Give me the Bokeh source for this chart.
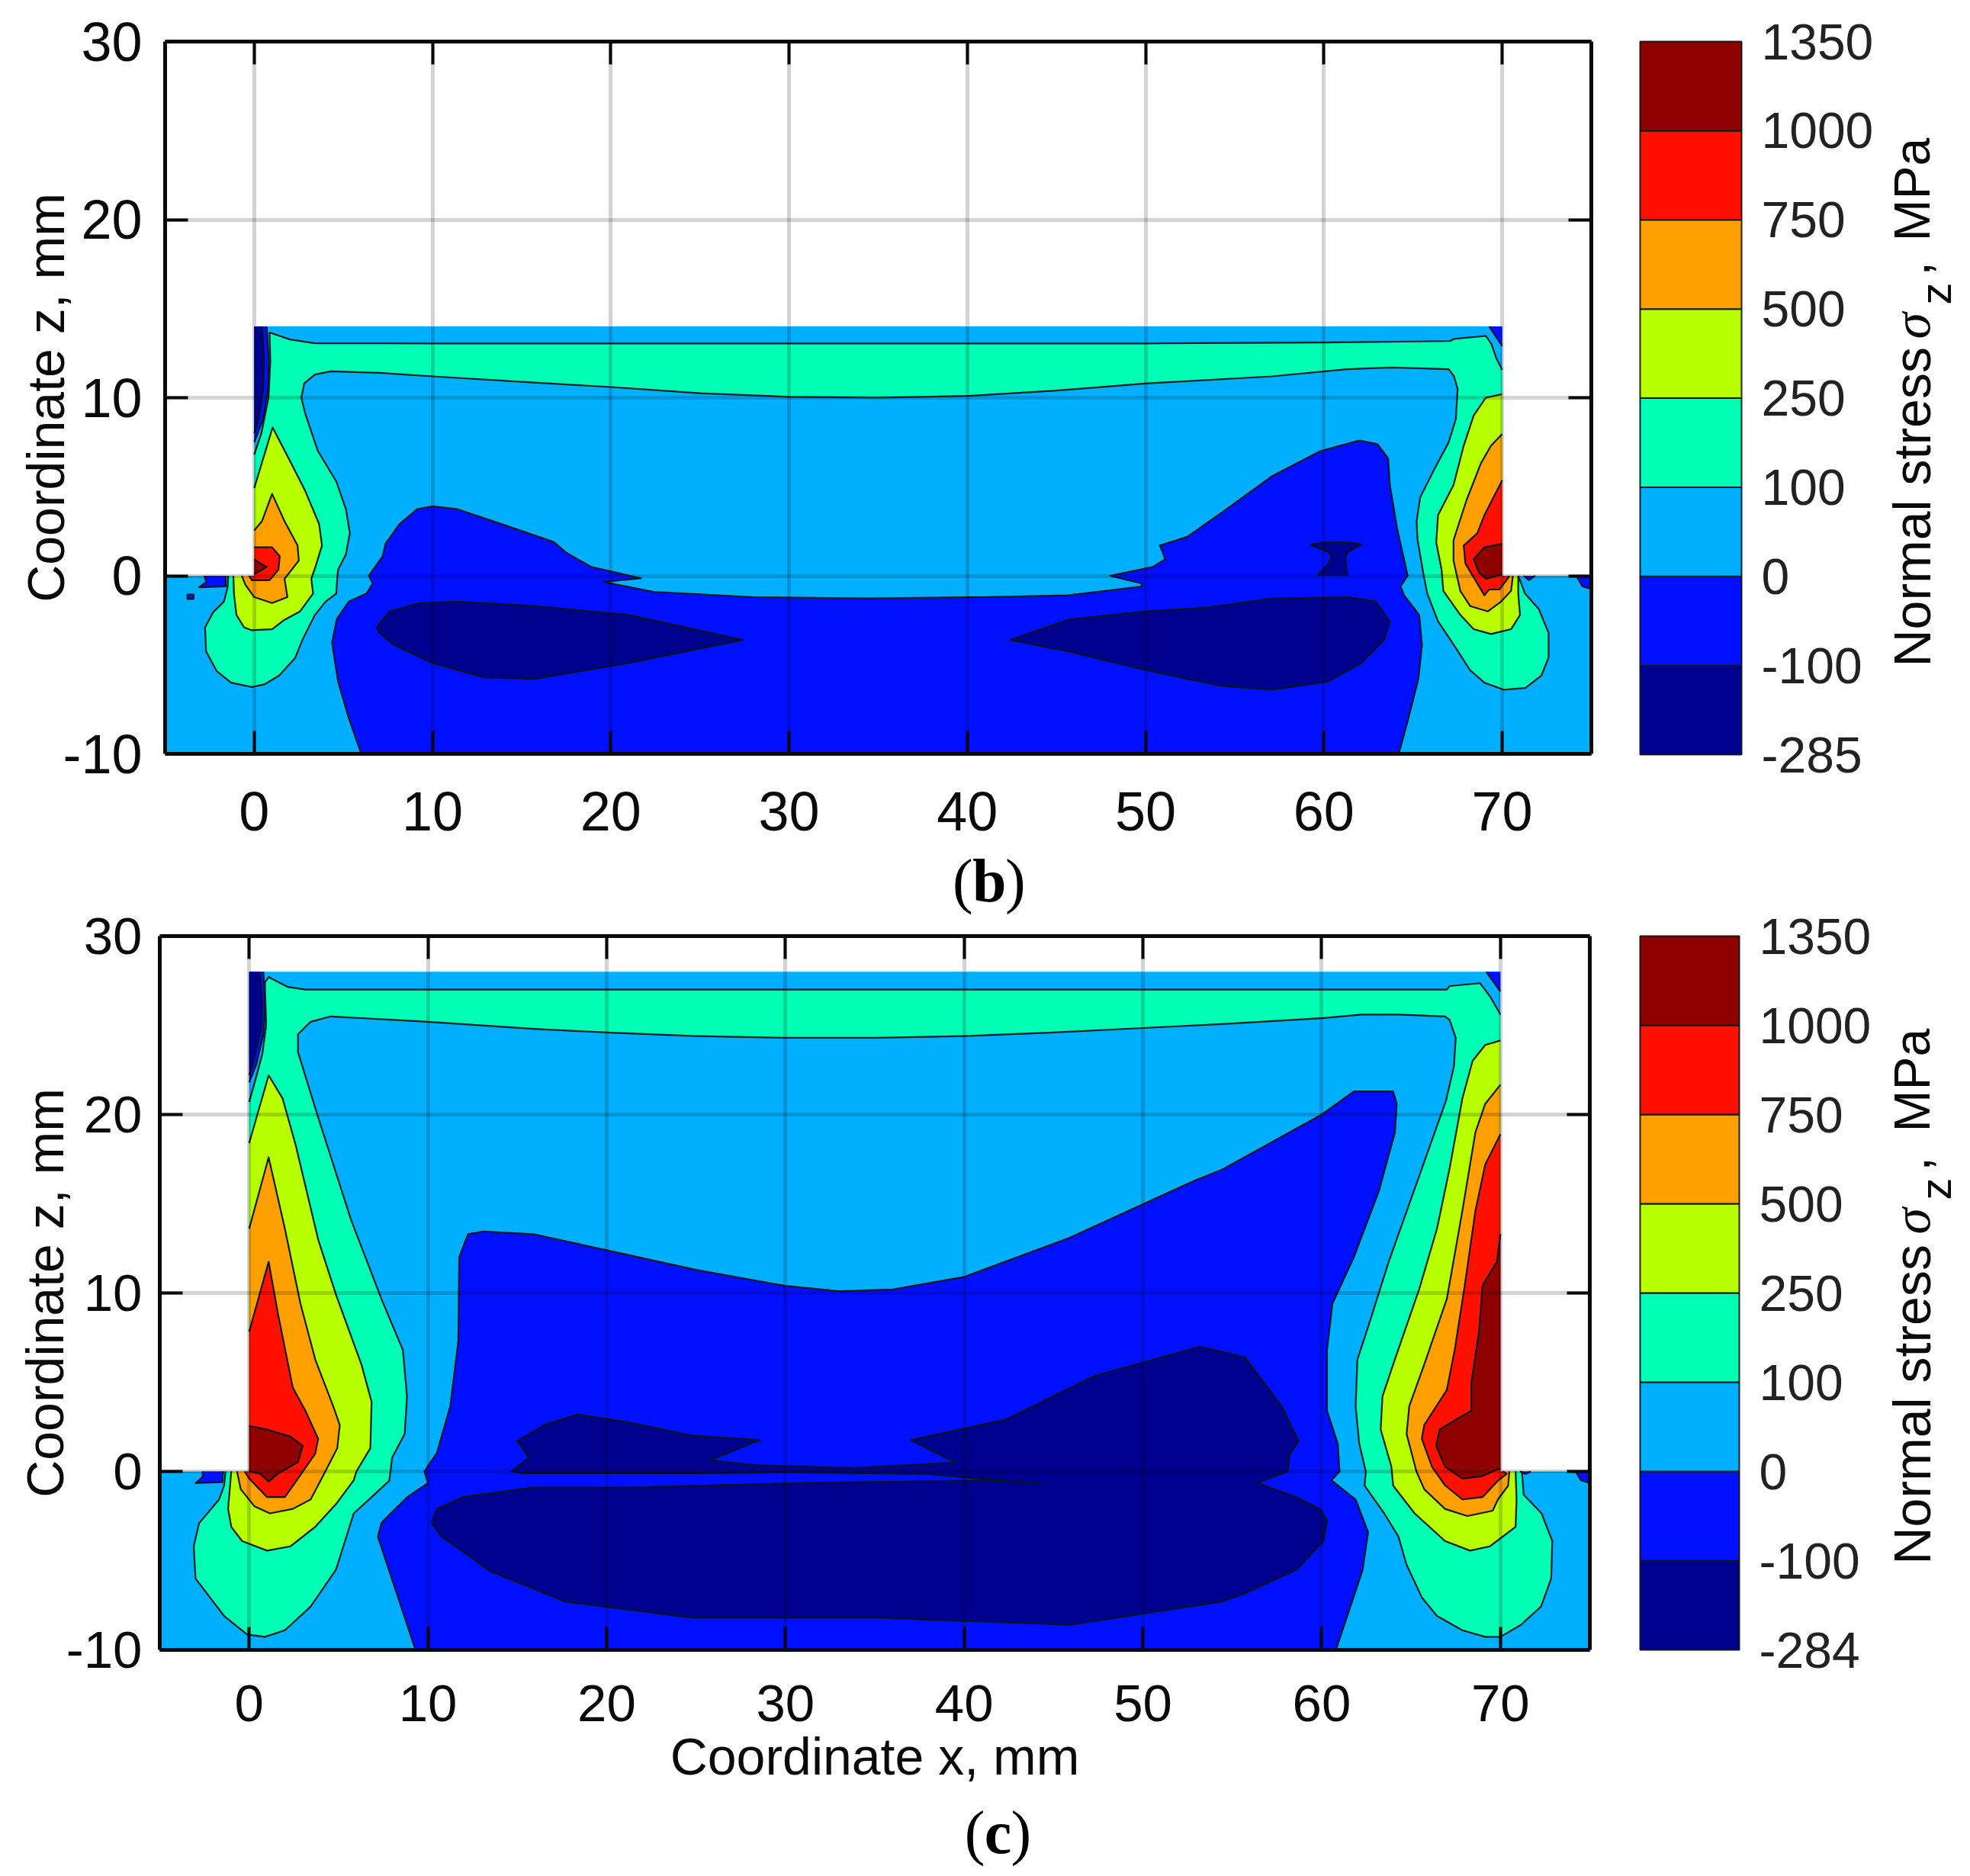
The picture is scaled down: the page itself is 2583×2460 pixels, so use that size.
from math import pi
from bokeh.embed import file_html
from bokeh.resources import INLINE
from bokeh.plotting import figure
from bokeh.layouts import column, row
from bokeh.models import FixedTicker, LinearAxis, Range1d
from bokeh.core.properties import value

# ---------- data ----------
x_ticks = [0, 10, 20, 30, 40, 50, 60, 70]
z_ticks = [-10, 0, 10, 20, 30]
level_colors = ["#00008f", "#0010ff", "#00b0ff", "#00ffb4", "#b8ff00", "#ffa000", "#ff1000", "#8f0000"]
bar_labels_b = ["-285", "-100", "0", "100", "250", "500", "750", "1000", "1350"]
bar_labels_c = ["-284", "-100", "0", "100", "250", "500", "750", "1000", "1350"]

# panel (b): contour outlines as (x, z) in mm
b_base = [(-5,-10),(75,-10),(75,0),(70,0),(70,14),(0,14),(0,0),(-5,0)]
b_mint = [(-1.46,0),(0,0),(0,6.8),(0.4,8),(0.8,10),(0.9,12),(0.86,13.66),(2,13.27),(3.4,13.06),(10,13.05),(30,13.05),(50,13.05),(60,13.1),
          (67.07,13.18),(67.3,13.3),(69.08,13.47),(69.4,13),(69.66,12.24),(70,11.56),(70,0),(70.9,0),(71.28,-1),(72.05,-1.87),(72.6,-3.2),
          (72.6,-4.6),(72.2,-5.6),(71.3,-6.3),(70.1,-6.4),(69,-6),(68.2,-5.3),(67.3,-3.9),(66.4,-2.55),(65.8,-1),(65.6,0),(65.25,2.04),
          (65.2,3.06),(65.4,4.4),(66.2,6),(67,7.5),(67.4,8.8),(67.5,10.5),(67.3,11.2),(67,11.6),(63.8,11.7),(61.3,11.6),(57.1,11.2),(50,10.8),
          (45,10.4),(40,10.1),(35,10),(30,10.05),(25,10.25),(20,10.6),(15.7,10.85),(10,11.2),(7,11.4),(4.3,11.48),(3.4,11.3),(2.8,10.8),
          (2.64,10),(2.86,9.1),(3.57,7),(4.6,5.3),(5.14,3.74),(5.36,2.4),(5.14,1.2),(4.7,0.34),(4.64,-0.34),(4.6,-1),(4,-1.45),(3.4,-2.2),
          (2.7,-3.6),(2.3,-4.6),(1.4,-5.6),(0.57,-6.1),(-0.14,-6.25),(-1.3,-6),(-2.1,-5.36),(-2.7,-4.25),(-2.76,-2.9),(-2.3,-2.04),(-1.7,-1.45),(-1.5,-0.68)]
b_blue_main = [(6,-10),(5.3,-8),(4.7,-5.95),(4.36,-3.74),(4.64,-2.4),(5.3,-1.45),(6.3,-1),(6.64,-0.43),(6.43,0),(7.2,1.1),(7.36,1.8),(8.14,2.9),
               (9.14,3.74),(10,3.9),(11.4,3.74),(13.3,3.1),(16.8,1.9),(17.5,1.3),(18.9,0.5),(21.7,-0.14),(19.6,-0.35),(22.4,-0.9),(28,-1.2),
               (34.4,-1.27),(40.8,-1.2),(45.66,-1.1),(49.77,-0.6),(49.77,-0.43),(48,0),(50.4,0.5),(51.1,0.94),(50.8,1.7),(52.35,2.2),(54.3,3.57),
               (57.1,5.6),(59.8,7),(62,7.6),(63,7.4),(63.6,6.6),(63.7,5.1),(64.1,2.7),(64.7,0),(64.3,-0.6),(64.5,-1.1),(65.35,-2.2),(65.5,-3.9),
               (65.3,-5.8),(64.7,-8.16),(64.2,-10)]
b_blue_wall = [(0,14),(0.7,14),(0.82,12),(0.78,10.5),(0.5,8.8),(0,7.5)]
b_blue_top_right = [(69.27,14),(70,14),(70,12.9)]
b_blue_notch_l = [(-2.8,0),(-1.6,0),(-1.6,-0.6),(-3.1,-0.65),(-2.7,-0.35)]
b_blue_dot = [(-3.75,-1.05),(-3.4,-1.05),(-3.4,-1.3),(-3.75,-1.3)]
b_blue_notch_r = [(71.2,0),(71.85,0),(71.5,-0.25)]
b_blue_edge = [(74.15,0),(75,0),(75,-0.75),(74.5,-0.6)]
b_navy_wall = [(0,14),(0.45,14),(0.55,12),(0.5,10.4),(0.25,8.8),(0,8)]
b_navy_left = [(6.86,-2.9),(7.6,-2),(9.3,-1.53),(11.4,-1.45),(15.7,-1.7),(21,-2.2),(27.4,-3.6),(21,-4.9),(15.7,-5.8),(12.9,-5.7),(10,-4.9),(7.86,-3.9),(7,-3.2)]
b_navy_right = [(42.4,-3.6),(45.66,-2.47),(50,-2),(53.3,-1.8),(57.1,-1.28),(61.4,-1.2),(62.9,-1.45),(63.7,-2.55),(63.4,-3.57),(62.1,-4.9),(60.2,-5.95),
                (57.1,-6.4),(54.3,-6.2),(50,-5.3),(45.66,-4.25)]
b_navy_blob = [(59.24,1.75),(60,1.87),(61.4,1.87),(62.1,1.75),(61.3,1.3),(61.2,0.9),(61.34,0),(59.6,0),(60.2,0.6),(60.4,1),(60.3,1.3)]
b_yellow_l = [(0,4.93),(1.03,8.33),(2,6.46),(2.86,4.76),(3.64,2.9),(3.8,1.7),(3.43,0.5),(3.2,-0.17),(3.3,-1),(2.57,-2),(1.7,-2.47),(1,-3),(-0.14,-3.06),
              (-0.57,-2.9),(-1,-2.2),(-1.14,-1),(-1.17,0),(0,0)]
b_yellow_r = [(70,10.2),(69.08,10),(68.4,9),(67.84,7.3),(67.27,5.1),(66.4,3.4),(66.3,1.87),(66.6,0.34),(66.7,-0.85),(67.65,-2.2),(68.4,-3),(69.37,-3.27),
              (70.5,-3),(71,-2.2),(70.9,-1),(70.9,0),(70,0)]
b_orange_l = [(0,2.55),(0.43,3.06),(1,4.6),(1.7,3.06),(2.43,1.7),(2.5,0.85),(1.7,-0.17),(1.86,-1.2),(1,-1.53),(0,-1.2),(-0.5,-0.5),(-0.7,0),(0,0)]
b_orange_r = [(70,7.96),(69.37,7.3),(68.8,6.3),(68,4.25),(67.27,2),(67.27,0.85),(67.65,-0.85),(68.2,-1.7),(69.2,-2),(69.94,-1.45),(70.5,-0.85),(70.6,0),(70,0)]
b_red_l = [(0,1.6),(1,1.6),(1.43,1.1),(1.36,0.34),(0.86,-0.25),(-0.14,-0.25),(-0.29,0),(0,0)]
b_red_r = [(70,5.36),(69,3.4),(68.6,2.38),(67.84,1.7),(67.94,0.68),(69,-1.1),(69.27,-0.77),(69.85,-0.77),(70.3,-0.17),(70.4,0),(70,0)]
b_dark_l = [(0,0.93),(0.36,0.68),(0.7,0.5),(0.29,0.25),(0,0.1)]
b_dark_r = [(70,1.8),(69,1.6),(68.4,0.93),(68.7,0.17),(69.1,-0.17),(70,0.08)]

# panel (c)
c_base = [(-5,-10),(75,-10),(75,0),(70,0),(70,28),(0,28),(0,0),(-5,0)]
c_mint = [(-1.32,0),(0,0),(0,20.7),(0.31,21.8),(0.74,23.4),(0.95,25),(0.88,27.4),(1.09,27.7),(2.16,27.15),(3.15,27),(10,27),(30,27),(50,27),(67,27),
          (67.16,27.2),(68.86,27.36),(69.43,26.6),(70,25.6),(70,0),(71.2,0),(71.3,-1.3),(72.3,-2.35),(72.9,-3.9),(72.84,-6),(72.27,-7.57),(71.14,-8.6),
          (70,-9.27),(69.15,-9.27),(67.87,-8.9),(66.45,-8.1),(65.6,-7.05),(64.74,-5.2),(64.3,-3.66),(63.5,-2.35),(62.4,-0.8),(62.47,0),(62.1,1.57),
          (61.9,3.66),(62,6.27),(62.6,8.1),(63.75,11.75),(66.95,20.76),(67.4,22.7),(67.5,24.3),(67.16,25.3),(66.9,25.5),(64.3,25.6),(62.2,25.6),(60,25.4),
          (54.4,25.07),(50,24.85),(45,24.6),(40,24.4),(35,24.3),(30,24.3),(25,24.4),(20,24.6),(15.9,24.8),(10,25.2),(4.57,25.5),(3.44,25.2),(2.73,24.5),
          (2.73,23.5),(3.86,19.84),(5.7,14.1),(7.4,9.66),(8.6,6.8),(8.83,4.18),(8.7,2.1),(8,0.78),(7.84,-0.52),(7,-1.3),(5.85,-2.35),(4.86,-5.5),(3.44,-7.57),
          (2,-8.9),(0.88,-9.27),(-0.11,-9.14),(-1.4,-8.1),(-3,-6),(-3.1,-4.2),(-2.8,-2.9),(-1.68,-1.57),(-1.4,-0.8)]
c_blue_main = [(9.3,-10),(7.2,-3.66),(7.4,-2.87),(8.84,-1.44),(10,-0.65),(9.8,0),(10.5,1.04),(11.25,3.66),(11.7,7.3),(11.75,12),(12.24,13.3),(13.1,13.45),
               (15.9,13.3),(20,12.4),(25,11.3),(30,10.4),(33,10.1),(36,10.2),(40,10.9),(45.9,13.1),(52.9,16.3),(54.4,16.9),(60,20),(61.8,21.3),(64,21.3),(64.2,20.6),
               (64.1,19),(63.2,15.7),(61.8,12),(60.6,9.4),(60.3,6.8),(60.3,3.4),(60.9,1.57),(61,0),(60.55,-0.5),(61.9,-1.57),(62.6,-3.4),(62.3,-5.5),(60.8,-10)]
c_blue_wall = [(0,28),(0.8,28),(0.9,26),(0.8,24.5),(0.4,22.8),(0,21.8)]
c_blue_top_right = [(69.2,28),(70,28),(70,26.9)]
c_blue_notch_l = [(-2.6,0),(-1.45,0),(-1.5,-0.6),(-3,-0.65),(-2.6,-0.3)]
c_blue_notch_r = [(71.1,0),(71.7,0),(71.4,-0.15)]
c_blue_edge = [(74.2,0),(75,0),(75,-0.65),(74.5,-0.5)]
c_navy_wall = [(0,28),(0.6,28),(0.74,26.1),(0.67,24.8),(0.17,22.7),(0,22.2)]
c_navy_main = [(10.2,-2.87),(10.5,-2.1),(11.96,-1.44),(15.9,-0.9),(21.2,-0.9),(31.8,-0.63),(41.6,-0.5),(44.3,-0.7),(38,-0.15),(30,-0.05),(25,-0.1),(15.3,-0.1),
               (14.66,0),(15.65,0.78),(15,1.7),(16.5,2.6),(18.4,3.2),(21.2,2.75),(24.8,2),(28.6,1.76),(25.8,0.63),(28.3,0.35),(33.9,0.2),(39.5,0.5),(37,1.76),
               (42.3,2.9),(47.3,5.35),(53.2,7),(55.7,6.4),(57.8,3.6),(58.7,1.7),(58.2,0.9),(58.1,0),(56.4,-0.65),(58.6,-1.44),(59.9,-2.1),(60.3,-2.74),(60.1,-3.9),
               (58.6,-5.5),(55.8,-6.8),(54.4,-7.3),(45.9,-8.6),(35.3,-8.2),(24.8,-8.2),(17.7,-7.3),(13.5,-5.6),(10.7,-3.6)]
c_yellow_l = [(0,18.4),(1.09,22.2),(1.87,20.9),(2.6,18.3),(3.86,13),(4.86,9.9),(6.28,6),(6.85,3.9),(6.78,1.3),(6,0),(5.85,-0.5),(4.86,-1.83),(3.7,-3.1),(2.3,-4.2),
              (1,-4.44),(-0.4,-3.9),(-1,-3.1),(-1.18,-2.1),(-1,0),(0,0)]
c_yellow_r = [(70,24.15),(69.15,23.9),(68.44,23),(67.87,20.9),(67.16,17),(66.45,13.6),(65.45,10.2),(64,6),(63.4,4.2),(63.3,2.35),(63.9,0.26),(64,-0.8),(65.2,-2.35),
              (66.9,-3.9),(68.3,-4.44),(69.4,-4.2),(70.85,-3.1),(70.9,-1.57),(70.85,0),(70,0)]
c_orange_l = [(0,13.6),(1.09,17.6),(2,13.6),(2.87,9.4),(3.7,6.27),(4.7,3.66),(5.07,2.6),(4.93,1.3),(4,-0.5),(3.44,-1.57),(2.44,-2.1),(1.16,-2.35),(0.3,-1.96),
              (-0.47,-1),(-0.68,0),(0,0)]
c_orange_r = [(70,21.67),(69.15,20.6),(68.6,19),(67.87,14.6),(67,9.66),(65.74,6),(64.9,3.66),(64.75,2.1),(65.3,0),(65.74,-1),(66.9,-2.1),(68.15,-2.5),(69.57,-2.2),
              (69.86,-1.57),(70.43,-0.8),(70.5,0),(70,0)]
c_red_l = [(0,7.83),(1.09,11.75),(1.6,8.9),(2.44,4.7),(3.15,3.4),(3.86,1.83),(3.7,1),(2.73,-0.4),(2,-1.44),(1,-1.44),(0,-0.4),(-0.25,0),(0,0)]
c_red_r = [(70,18.9),(69.15,17.2),(68.6,14.6),(68,10.4),(67.44,6.8),(67,4.57),(65.74,2.6),(65.6,1.83),(66.17,0.26),(66.9,-0.78),(67.87,-1.57),(69,-1.44),
           (69.86,-0.52),(70.35,-0.13),(70.14,0),(70,0)]
c_dark_l = [(0,2.56),(1,2.35),(2.3,1.96),(3,1.44),(2.73,0.52),(1.6,-0.13),(1.09,-0.57),(0.6,-0.13),(0,0)]
c_dark_r = [(70,13.3),(69.8,11.75),(69,10.44),(68.8,7.83),(68.37,4.96),(68.37,3.4),(67.44,2.87),(66.6,2.35),(66.4,1.44),(66.9,0.26),(67.87,-0.4),(69,-0.26),
            (69.86,0.13),(70,0.13)]

# (level index, outline) in drawing order
panel_b = [(3, b_mint), (1, b_blue_main), (1, b_blue_wall), (1, b_blue_top_right), (1, b_blue_notch_l), (1, b_blue_dot), (1, b_blue_notch_r), (1, b_blue_edge),
           (0, b_navy_wall), (0, b_navy_left), (0, b_navy_right), (0, b_navy_blob),
           (4, b_yellow_l), (4, b_yellow_r), (5, b_orange_l), (5, b_orange_r), (6, b_red_l), (6, b_red_r), (7, b_dark_l), (7, b_dark_r)]
panel_c = [(3, c_mint), (1, c_blue_main), (1, c_blue_wall), (1, c_blue_top_right), (1, c_blue_notch_l), (1, c_blue_notch_r), (1, c_blue_edge),
           (0, c_navy_wall), (0, c_navy_main),
           (4, c_yellow_l), (4, c_yellow_r), (5, c_orange_l), (5, c_orange_r), (6, c_red_l), (6, c_red_r), (7, c_dark_l), (7, c_dark_r)]

FONT = "Liberation Sans"
INK = "#0a0a0a"

def on_border(a, b, top):
    if a[0] == b[0] and a[0] in (0, 70) and min(a[1], b[1]) >= 0:
        return True
    if a[1] == b[1] and a[1] in (0, top, -10):
        return True
    return False

def side_axis(ticker):
    return LinearAxis(ticker=FixedTicker(ticks=ticker), major_label_text_font_size="0px", major_label_text_alpha=0,
                      major_label_standoff=0, major_tick_in=30, major_tick_out=0, major_tick_line_width=4,
                      major_tick_line_color=INK, minor_tick_line_color=None, axis_line_width=5, axis_line_color=INK)

def contour_panel(outlines, base, top, w, h, left, right, above, below, tick_pad, tick_size):
    p = figure(width=left + w + right, height=above + h + below, frame_width=w, frame_height=h,
               x_range=Range1d(-5, 75), y_range=Range1d(-10, 30),
               min_border_left=left, min_border_right=right, min_border_top=above, min_border_bottom=below,
               output_backend="svg", toolbar_location=None, outline_line_color=None,
               background_fill_color="white", border_fill_color=None)
    p.patch([q[0] for q in base], [q[1] for q in base], fill_color=level_colors[2], line_color=None)
    for lev, poly in outlines:
        p.patch([q[0] for q in poly], [q[1] for q in poly], fill_color=level_colors[lev], line_color=None)
        xs, ys, run = [], [], []
        closed = poly + [poly[0]]
        for a, b in zip(closed[:-1], closed[1:]):
            if on_border(a, b, top):
                if len(run) > 1:
                    xs.append([q[0] for q in run]); ys.append([q[1] for q in run])
                run = []
            else:
                if not run:
                    run = [a]
                run.append(b)
        if len(run) > 1:
            xs.append([q[0] for q in run]); ys.append([q[1] for q in run])
        p.multi_line(xs, ys, line_color="#031414", line_width=2.2, line_alpha=0.95, line_join="round")
    ax = p.below[0]
    ay = p.left[0]
    for a, ticks in ((ax, x_ticks), (ay, z_ticks)):
        a.ticker = FixedTicker(ticks=ticks)
        a.major_label_overrides = {t: str(t) for t in ticks}
        a.major_label_text_font = FONT
        a.major_label_text_font_size = tick_size
        a.major_label_text_color = INK
        a.major_tick_in = 30
        a.major_tick_out = 0
        a.major_tick_line_width = 4
        a.major_tick_line_color = INK
        a.minor_tick_line_color = None
        a.axis_line_width = 5
        a.axis_line_color = INK
        a.axis_label_text_font = FONT
        a.axis_label_text_font_size = "68px"
        a.axis_label_text_font_style = "normal"
        a.axis_label_text_color = INK
    ax.major_label_standoff = tick_pad[0]
    ay.major_label_standoff = tick_pad[1]
    p.add_layout(side_axis(x_ticks), "above")
    p.add_layout(side_axis(z_ticks), "right")
    for g, ticks in ((p.xgrid[0], x_ticks), (p.ygrid[0], z_ticks)):
        g.ticker = FixedTicker(ticks=ticks)
        g.level = "annotation"
        g.grid_line_color = "#000000"
        g.grid_line_alpha = 0.17
        g.grid_line_width = 5
    return p

def blank(width, height, x_range, y_range, left=0):
    p = figure(width=width, height=height, frame_width=width - left, frame_height=height, x_range=x_range, y_range=y_range,
               min_border_left=left, min_border_right=0, min_border_top=0, min_border_bottom=0,
               output_backend="svg", toolbar_location=None, outline_line_color=None,
               background_fill_color=None, border_fill_color=None)
    p.axis.visible = False
    p.grid.visible = False
    return p

def caption(w, left, height, y, x_open, x_letter, x_close, letter):
    p = blank(left + w, height, Range1d(-5, 75), Range1d(0, height), left)
    for x, t, st in ((x_open, "(", "normal"), (x_letter, letter, "bold"), (x_close, ")", "normal")):
        p.text(x=[x], y=[y], text=[t], text_font=value("Liberation Serif"), text_font_size=value("80px"), text_font_style=st,
               text_color="#000000", text_align="left", text_baseline="alphabetic")
    return p

def colorbar(labels, w, h, left, right, above, below):
    p = figure(width=left + w + right, height=above + h + below, frame_width=w, frame_height=h,
               x_range=Range1d(0, 1), y_range=Range1d(0, len(level_colors)), y_axis_location="right",
               min_border_left=left, min_border_right=right, min_border_top=above, min_border_bottom=below,
               output_backend="svg", toolbar_location=None, outline_line_color="#1a1a1a", outline_line_width=2,
               border_fill_color=None)
    p.quad(left=0, right=1, bottom=list(range(len(level_colors))), top=list(range(1, len(level_colors) + 1)),
           fill_color=level_colors, line_color="#0a1a1a", line_width=2)
    p.grid.visible = False
    p.xaxis.visible = False
    a = p.yaxis[0]
    a.ticker = FixedTicker(ticks=list(range(len(labels))))
    a.major_label_overrides = {i: t for i, t in enumerate(labels)}
    a.major_label_text_font = FONT
    a.major_label_text_font_size = "66px"
    a.major_label_text_color = "#222222"
    a.major_label_standoff = 20
    a.major_tick_line_color = None
    a.minor_tick_line_color = None
    a.axis_line_color = None
    return p

def bar_title(height, y_normal, y_sigma, y_z, y_comma, y_mpa):
    # a narrow strip: x and y run in pixels of the strip, text is rotated
    p = blank(123, height, Range1d(0, 123), Range1d(0, height))
    for x, y, t, font, size, st in ((46, y_normal, "Normal stress", FONT, "68px", "normal"),
                                    (46, y_sigma, "\u03c3", "Liberation Serif", "70px", "italic"),
                                    (77, y_z, "z", FONT, "58px", "normal"),
                                    (46, y_comma, ",", FONT, "66px", "normal"),
                                    (46, y_mpa, "MPa", FONT, "66px", "normal")):
        p.text(x=[x], y=[y], text=[t], angle=pi / 2, text_font=value(font), text_font_size=value(size), text_font_style=st,
               text_color=INK, text_align="left", text_baseline="alphabetic")
    return p

# panel b: frame 216..2086 x 54..988 on the page, row height 1110
pb = contour_panel(panel_b, b_base, 14, 1870, 934, 216, 29, 54, 122, (50, 30), "72px")
pb.left[0].axis_label = "Coordinate z, mm"
pb.left[0].axis_label_standoff = -19
bar_b = colorbar(bar_labels_b, 133, 935, 35, 177, 53, 122)
title_b = bar_title(1110, 290, 720, 765, 803, 848)
cap_b = caption(1870, 216, 90, 46, 39.17, 40.28, 42.12, "b")

# panel c: frame 209..2084 x 1227..2163 on the page; its row starts 30px above the end of (b)'s caption
pc = contour_panel(panel_c, c_base, 28, 1875, 936, 209, 31, 57, 190, (46, 23), "69px")
pc.left[0].axis_label = "Coordinate z, mm"
pc.left[0].axis_label_standoff = -13
pc.below[0].axis_label = "Coordinate x, mm"
pc.below[0].axis_label_standoff = 5
bar_c = colorbar(bar_labels_c, 130, 936, 35, 180, 55, 192)
title_c = bar_title(1183, 359, 792, 837, 875, 926)
cap_c = caption(1875, 209, 100, 51, 39.72, 40.83, 42.32, "c")

row_b = row(pb, bar_b, title_b, spacing=0)
row_c = row(pc, bar_c, title_c, spacing=0, margin=(-30, 0, 0, 0))
page = column(row_b, cap_b, row_c, cap_c, spacing=0)
open("out.html", "w").write(file_html(page, INLINE))
